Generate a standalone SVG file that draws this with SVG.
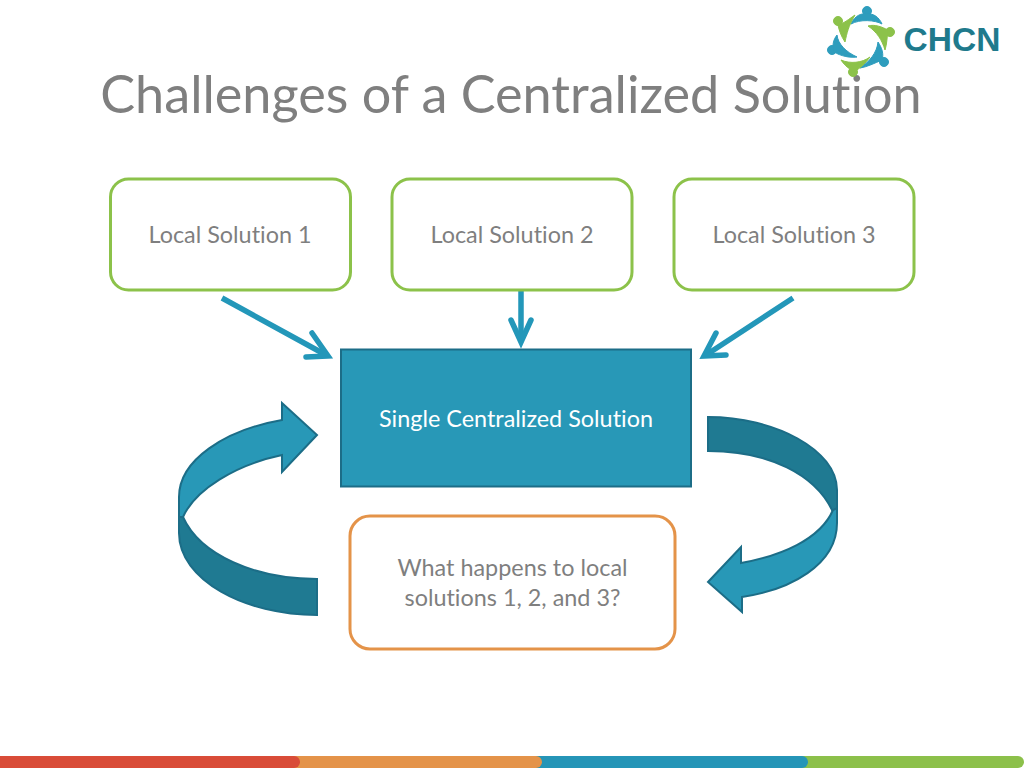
<svg xmlns="http://www.w3.org/2000/svg" width="1024" height="768" viewBox="0 0 1024 768">
<style>
text{font-family:"Lato","Open Sans","Liberation Sans",sans-serif;fill:#7f7f7f;text-anchor:middle;font-variant-ligatures:none}
.t{font-size:23.4px}
.g{fill:#fff;stroke:#8cc24a;stroke-width:3}
.o{fill:#fff;stroke:#e49349;stroke-width:3}
.c{fill:none;stroke:#2397b9;stroke-width:5.500}
.l{fill:#2898b7;stroke:#1c6d87;stroke-width:2;stroke-linejoin:miter}
.d{fill:#1f7a92;stroke:#1c6d87;stroke-width:2}
.lg{fill:#8cc24a;stroke:#8cc24a;stroke-width:1}.lb{fill:#2e9dbd;stroke:#2e9dbd;stroke-width:1}
</style>
<rect width="1024" height="768" fill="#fff"/>
<g id="footer">
<rect x="780" y="756" width="244" height="12" rx="6" fill="#8cc04a"/>
<rect x="520" y="756" width="288" height="12" rx="6" fill="#2595b7"/>
<rect x="280" y="756" width="262" height="12" rx="6" fill="#e49349"/>
<path d="M0 756H294a6 6 0 0 1 0 12H0Z" fill="#d94c38"/>
</g>
<text id="title" x="511" y="113" style="font-size:52.200px">Challenges of a Centralized Solution</text>
<g id="logo">
<circle class="lb" cx="867" cy="11" r="4.500"/>
<path class="lb" d="M851 24C855 15 862 13 867 14C873 13 879 17 882 24C875 20 860 19 851 24Z"/>
<circle class="lg" cx="838" cy="21" r="4.500"/>
<path class="lg" d="M855 15C848 27 847 33 845 42C841 36 839 30 838 25C843 24 849 19 855 15Z"/>
<circle class="lg" cx="890" cy="32" r="4.500"/>
<path class="lg" d="M868 26C875 24 882 27 888 30C887 37 887 44 885 50C882 40 877 32 868 26Z"/>
<circle class="lb" cx="884" cy="62" r="4.500"/>
<path class="lb" d="M878 42C882 48 884 54 882 60C875 63 867 67 860 68C869 62 877 53 878 42Z"/>
<circle class="lg" cx="853" cy="72" r="4.500"/>
<path class="lg" d="M870 57C865 64 859 69 855 71C850 70 845 66 841 60C850 64 862 63 870 57Z"/>
<circle class="lb" cx="832" cy="50" r="4.500"/>
<path class="lb" d="M837 35C838 44 846 52 857 57C849 58 841 56 834 52C832 46 833 40 837 35Z"/>
<text x="952" y="51" style="font-family:'Liberation Sans',sans-serif;font-size:33.500px;font-weight:700;fill:#1f7a8c">CHCN</text>
</g>
<g id="connectors">
<path class="c" d="M222 298L326 355M521 290V340M793 298L706 355"/>
<path class="c" stroke-linecap="round" d="M312 333L328 356L306 357M511 320L521 342L531 320M716 333L704 356L726 355"/>
</g>
<g id="local1"><rect class="g" x="110.500" y="179" width="240" height="111" rx="18"/><text class="t" x="230" y="243">Local Solution 1</text></g>
<g id="local2"><rect class="g" x="392" y="179" width="240" height="111" rx="18"/><text class="t" x="512" y="243">Local Solution 2</text></g>
<g id="local3"><rect class="g" x="674" y="179" width="240" height="111" rx="18"/><text class="t" x="794" y="243">Local Solution 3</text></g>
<g id="central"><rect x="341" y="349.500" width="350" height="137" fill="#2898b7" stroke="#1c6d87" stroke-width="2"/><text class="t" x="516" y="427" style="fill:#fff">Single Centralized Solution</text></g>
<g id="question"><rect class="o" x="350" y="516" width="325" height="133" rx="20"/><text class="t" x="512.500" y="576">What happens to local</text><text class="t" x="512.500" y="606">solutions 1, 2, and 3?</text></g>
<g id="arrow-left">
<path class="d" d="M179 497V533C179 580 245 615 317 615V579C255 579 200 555 183 517Z"/>
<path class="l" d="M282 420C225 430 179 460 179 497V517H183C195 490 235 465 282 455V472L317 435L282 403Z"/>
</g>
<g id="arrow-right">
<path class="d" d="M708 417C775 417 837 450 837 490V510H832C815 475 770 451 708 451Z"/>
<path class="l" d="M837 508V523C837 565 790 590 742 597V612L708 582L741 547V563C780 556 820 540 833 510Z"/>
</g>
</svg>
